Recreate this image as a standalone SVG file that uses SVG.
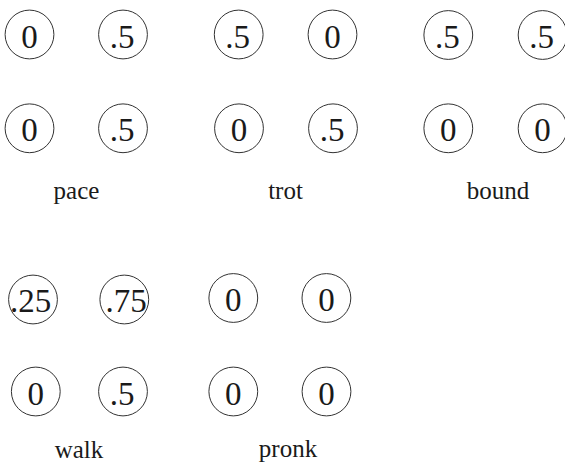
<svg xmlns="http://www.w3.org/2000/svg" width="565" height="463" viewBox="0 0 565 463">
<style>
.n{fill:none;stroke:#333;stroke-width:1}
.v{font-family:"Liberation Serif","Times New Roman",serif;font-size:33px;fill:#1a1a1a;text-anchor:middle}
.l{font-family:"Liberation Serif","Times New Roman",serif;font-size:25px;fill:#1a1a1a;text-anchor:middle}
</style>
<rect width="565" height="463" fill="#fff"/>
<g id="connectors"/>
<g id="pace">
<g id="pace-fl"><circle class="n" cx="29.5" cy="34.5" r="24.4"/><text class="v" x="29.5" y="47.5">0</text></g>
<g id="pace-fr"><circle class="n" cx="123" cy="34.5" r="24.4"/><text class="v" x="122" y="47.5">.5</text></g>
<g id="pace-hl"><circle class="n" cx="29.5" cy="128.3" r="24.4"/><text class="v" x="29.5" y="141.3">0</text></g>
<g id="pace-hr"><circle class="n" cx="123" cy="128.3" r="24.4"/><text class="v" x="122" y="141.3">.5</text></g>
<text class="l" x="76.5" y="199">pace</text>
</g>
<g id="trot">
<g id="trot-fl"><circle class="n" cx="238.7" cy="34.5" r="24.4"/><text class="v" x="237.7" y="47.5">.5</text></g>
<g id="trot-fr"><circle class="n" cx="332.5" cy="34.5" r="24.4"/><text class="v" x="332.5" y="47.5">0</text></g>
<g id="trot-hl"><circle class="n" cx="239" cy="128.3" r="24.4"/><text class="v" x="239" y="141.3">0</text></g>
<g id="trot-hr"><circle class="n" cx="333" cy="128.3" r="24.4"/><text class="v" x="332" y="141.3">.5</text></g>
<text class="l" x="285.5" y="199">trot</text>
</g>
<g id="bound">
<g id="bound-fl"><circle class="n" cx="448.3" cy="35" r="24.4"/><text class="v" x="447.3" y="48">.5</text></g>
<g id="bound-fr"><circle class="n" cx="542.6" cy="35" r="24.4"/><text class="v" x="541.6" y="48">.5</text></g>
<g id="bound-hl"><circle class="n" cx="448.3" cy="128.3" r="24.4"/><text class="v" x="448.3" y="141.3">0</text></g>
<g id="bound-hr"><circle class="n" cx="542.6" cy="128.3" r="24.4"/><text class="v" x="542.6" y="141.3">0</text></g>
<text class="l" x="498" y="199">bound</text>
</g>
<g id="walk">
<g id="walk-fl"><circle class="n" cx="33" cy="299.5" r="24.4"/><text class="v" x="30.5" y="312">.25</text></g>
<g id="walk-fr"><circle class="n" cx="124.3" cy="299.5" r="24.4"/><text class="v" x="126" y="312">.75</text></g>
<g id="walk-hl"><circle class="n" cx="35.8" cy="391.5" r="24.4"/><text class="v" x="35.8" y="404.5">0</text></g>
<g id="walk-hr"><circle class="n" cx="123" cy="391.5" r="24.4"/><text class="v" x="122" y="404.5">.5</text></g>
<text class="l" x="79" y="458">walk</text>
</g>
<g id="pronk">
<g id="pronk-fl"><circle class="n" cx="233.3" cy="298" r="24.4"/><text class="v" x="233.3" y="311">0</text></g>
<g id="pronk-fr"><circle class="n" cx="326.4" cy="298" r="24.4"/><text class="v" x="326.4" y="311">0</text></g>
<g id="pronk-hl"><circle class="n" cx="233.3" cy="391.5" r="24.4"/><text class="v" x="233.3" y="404.5">0</text></g>
<g id="pronk-hr"><circle class="n" cx="326.5" cy="391.5" r="24.4"/><text class="v" x="326.5" y="404.5">0</text></g>
<text class="l" x="288" y="457">pronk</text>
</g>
</svg>
